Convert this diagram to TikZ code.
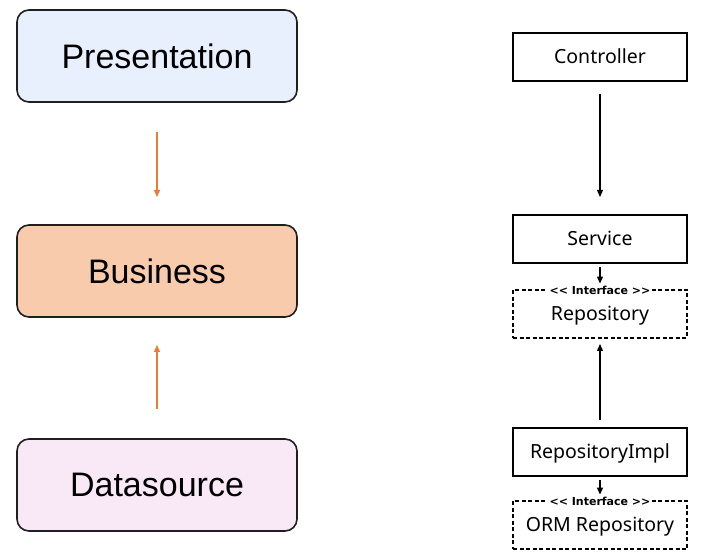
\documentclass[tikz,border=0pt]{standalone}
\usepackage{fontspec}
\setmainfont{Liberation Sans}
\newfontfamily\boxfont{Noto Sans}
\newfontfamily\tagfont{DejaVu Sans}
\usetikzlibrary{positioning,arrows.meta}

\definecolor{presfill}{HTML}{E8EFFD}
\definecolor{busfill}{HTML}{F8CBAD}
\definecolor{datafill}{HTML}{F9E9F6}
\definecolor{flowarrow}{HTML}{ED7D31}

\begin{document}
\begin{tikzpicture}[x=1pt, y=1pt,
    layer/.style={draw=black!88, line width=1.6pt, outer sep=0pt, rectangle, rounded corners=12pt, minimum width=280pt, minimum height=92pt, font=\fontsize{34}{40}\selectfont},
    part/.style={draw=black, line width=1.3pt, outer sep=0pt, rectangle, minimum width=174pt, minimum height=48pt, text height=18pt, text depth=4pt, font=\boxfont\fontsize{19.5}{23}\selectfont},
    iface/.style={part, dash pattern=on 4pt off 2.5pt},
    stereo/.style={fill=white, inner sep=2pt, font=\tagfont\bfseries\fontsize{11}{13}\selectfont},
    >={Triangle[length=7pt, width=6pt]}]
    \useasboundingbox (0,0) rectangle (713,-553);

    % layers
    \node [layer, fill=presfill] (pres) at (157,-56) {Presentation};
    \node [layer, fill=busfill, below=123pt of pres] (bus) {Business};
    \node [layer, fill=datafill, below=122pt of bus] (data) {Datasource};

    \coordinate (presout) at ([yshift=-30pt]pres.south);
    \coordinate (busin) at ([yshift=-28pt]bus.south);
    \coordinate (dataout) at ([yshift=30pt]data.north);
    \draw [->, line width=1.4pt, flowarrow] (presout) -- ([yshift=28pt]bus.north);
    \draw [->, line width=1.4pt, flowarrow] (dataout) -- (busin);

    % classes
    \node [part] (ctrl) at (600,-57) {Controller};
    \node [part, below=134pt of ctrl] (svc) {Service};
    \node [iface, below=27pt of svc] (repo) {Repository};
    \node [stereo] (repotag) at (repo.north) {<{}< Interface >{}>};
    \node [part, below=90pt of repo] (impl) {RepositoryImpl};
    \node [iface, below=25pt of impl] (orm) {ORM Repository};
    \node [stereo] (ormtag) at (orm.north) {<{}< Interface >{}>};

    \draw [->, line width=1.2pt] ([yshift=-13pt]ctrl.south) -- ([yshift=18pt]svc.north);
    \draw [->, line width=1.2pt] ([yshift=-4pt]svc.south) -- (repotag.north);
    \draw [->, line width=1.2pt] ([yshift=8pt]impl.north) -- ([yshift=-6pt]repo.south);
    \draw [->, line width=1.2pt] ([yshift=-4pt]impl.south) -- (ormtag.north);
\end{tikzpicture}
\end{document}
